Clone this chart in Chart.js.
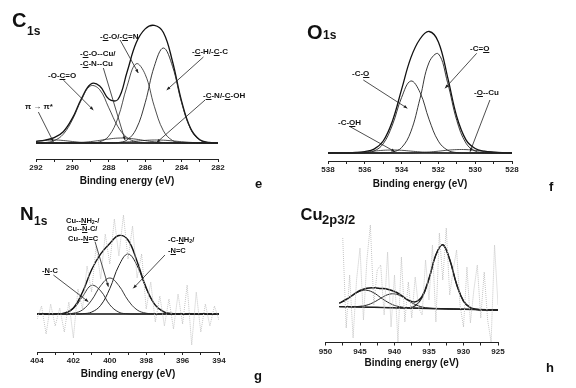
<!DOCTYPE html>
<html>
<head>
<meta charset="utf-8">
<script src="https://cdn.jsdelivr.net/npm/chart.js@4.4.1/dist/chart.umd.min.js"></script>
<style>
    body { margin: 0; background: #fff; }
    #page { position: relative; width: 576px; height: 388px; overflow: hidden; font-family: 'Liberation Sans', Arial, sans-serif; color: #111; }
    canvas { position: absolute; }
    .lbl { position: absolute; white-space: nowrap; font-weight: bold; line-height: 1; }
    .lbl u { text-decoration-thickness: 1px; text-underline-offset: 1px; }
    .lbl .s { font-size: 0.7em; vertical-align: -0.2em; }
</style>
</head>
<body>
<div id="page">
    <canvas id="c1sChart" width="290" height="195" style="left:0;top:0"></canvas>
    <canvas id="o1sChart" width="286" height="195" style="left:290px;top:0"></canvas>
    <canvas id="n1sChart" width="290" height="193" style="left:0;top:195px"></canvas>
    <canvas id="cuChart" width="286" height="193" style="left:290px;top:195px"></canvas>
</div>
<script>
// C 1s (panel e)
const c1sBE = [292, 291.5, 291, 290.5, 290, 289.5, 289, 288.5, 288, 287.5, 287, 286.5, 286, 285.5, 285, 284.5, 284, 283.5, 283, 282.5, 282];
const c1sEnvelope = [1.6, 2.9, 5.4, 11.3, 24.9, 44.5, 58.8, 57.1, 44, 43.5, 70.8, 99.9, 114.1, 117.6, 110.5, 81.5, 41.9, 14.4, 3.2, 0.5, 0];
const c1sCH = [0, 0, 0, 0, 0, 0, 0, 0, 0, 0.4, 3.0, 13.8, 40.3, 76.7, 95, 76.7, 40.3, 13.8, 3.0, 0.4, 0];
const c1sCO = [0, 0, 0, 0, 0, 0, 0.1, 1.2, 6.9, 25.0, 56.6, 79.2, 68.6, 36.7, 12.2, 2.5, 0.3, 0, 0, 0, 0];
const c1sOCO = [0.1, 0.4, 2.4, 8.8, 23.2, 43.3, 57.1, 53.3, 35.2, 16.4, 5.4, 1.3, 0.2, 0, 0, 0, 0, 0, 0, 0, 0];
const c1sPi = [1.5, 2.5, 3.0, 2.5, 1.5, 0.6, 0.2, 0, 0, 0, 0, 0, 0, 0, 0, 0, 0, 0, 0, 0, 0];
const c1sCOCu = [0, 0, 0, 0, 0.2, 0.6, 1.4, 2.6, 4.0, 4.9, 4.8, 3.8, 2.4, 1.2, 0.5, 0.2, 0, 0, 0, 0, 0];
const c1sCN = [0, 0, 0, 0, 0, 0, 0, 0, 0.2, 0.4, 1.0, 1.8, 2.6, 3.0, 2.8, 2.1, 1.3, 0.6, 0.2, 0.1, 0];

// O 1s (panel f)
const o1sBE = [538, 537.5, 537, 536.5, 536, 535.5, 535, 534.5, 534, 533.5, 533, 532.5, 532, 531.5, 531, 530.5, 530, 529.5, 529, 528.5, 528];
const o1sEnvelope = [0, 0.1, 0.2, 0.5, 1.4, 3.9, 12.0, 31.9, 63.6, 95.1, 114, 121.5, 111, 75.9, 36.3, 13.2, 4.5, 1.8, 0.8, 0.3, 0.1];
const o1sCdO = [0, 0, 0, 0, 0, 0, 0.1, 0.9, 5.4, 21.2, 54.4, 90.9, 99.1, 70.3, 32.5, 9.8, 1.9, 0.2, 0, 0, 0];
const o1sCO = [0, 0, 0, 0, 0.3, 2.0, 9.2, 28.0, 55.5, 72.0, 60.6, 33.2, 11.8, 2.8, 0.4, 0, 0, 0, 0, 0, 0];
const o1sCOH = [0, 0, 0.2, 0.5, 1.1, 1.9, 2.7, 3.0, 2.7, 1.9, 1.1, 0.5, 0.2, 0, 0, 0, 0, 0, 0, 0, 0];
const o1sOCu = [0, 0, 0, 0, 0, 0, 0, 0, 0, 0, 0.4, 1.0, 1.8, 2.8, 3.4, 3.4, 2.6, 1.6, 0.8, 0.3, 0.1];

// N 1s (panel g)
const n1sBE = [404, 403.5, 403, 402.5, 402, 401.5, 401, 400.5, 400, 399.5, 399, 398.5, 398, 397.5, 397, 396.5, 396, 395.5, 395, 394.5, 394];
const n1sEnvelope = [0, 0, 0.1, 0.9, 6.0, 21.8, 44.3, 60.1, 70.6, 78.5, 74.0, 52.5, 26.2, 8.8, 1.9, 0.3, 0, 0, 0, 0, 0];
const n1sCNH2 = [0, 0, 0, 0, 0, 0.3, 1.9, 8.7, 25.4, 48.4, 60, 48.4, 25.4, 8.7, 1.9, 0.3, 0, 0, 0, 0, 0];
const n1sCuN = [0, 0, 0, 0.1, 0.8, 4.1, 13.8, 28.3, 36, 28.3, 13.8, 4.1, 0.8, 0.1, 0, 0, 0, 0, 0, 0, 0];
const n1sNC = [0, 0, 0.1, 0.8, 5.2, 17.4, 28.6, 23.1, 9.2, 1.8, 0.2, 0, 0, 0, 0, 0, 0, 0, 0, 0, 0];
const n1sRawBE = [404, 403.75, 403.5, 403.25, 403, 402.75, 402.5, 402.25, 402, 401.75, 401.5, 401.25, 401, 400.75, 400.5, 400.25, 400, 399.75, 399.5, 399.25, 399, 398.75, 398.5, 398.25, 398, 397.75, 397.5, 397.25, 397, 396.75, 396.5, 396.25, 396, 395.75, 395.5, 395.25, 395, 394.75, 394.5, 394.25, 394];
const n1sRaw = [-5, 8, -20, 10, -12, 6, -18, 12, -24, 25, 5, 48, 22, 68, 35, 80, 50, 95, 58, 99, 55, 88, 36, 60, 5, 32, -8, 18, -12, 15, -15, 20, -10, 29, -31, 22, -18, 10, -12, 8, -6];

// Cu 2p3/2 (panel h)
const cuBE = [948, 947, 946, 945, 944, 943, 942, 941, 940, 939, 938, 937, 936, 935, 934, 933, 932, 931, 930, 929, 928, 927, 926, 925];
const cuEnvelope = [6.8, 10.5, 15.2, 19.5, 21.8, 22.2, 21.6, 20.8, 18.5, 14.6, 9.9, 8.1, 13.6, 31.4, 55.2, 65.2, 50.4, 25.8, 8.9, 2.3, 0.6, 0.3, 0.1, 0];
const cuMain = [3.4, 3.3, 3.1, 3.0, 2.8, 2.7, 2.5, 2.4, 2.2, 2.1, 2.3, 4.3, 12.2, 31.0, 55.1, 65.2, 50.4, 25.8, 8.9, 2.3, 0.6, 0.3, 0.1, 0];
const cuSat1 = [6.8, 10.4, 15.0, 18.8, 19.7, 17.2, 12.4, 7.9, 4.6, 3.0, 2.1, 1.9, 1.6, 1.5, 1.3, 1.2, 1.0, 0.9, 0.7, 0.6, 0.4, 0.3, 0.1, 0];
const cuSat2 = [3.4, 3.4, 3.3, 3.7, 4.9, 7.7, 11.7, 15.3, 16.1, 13.7, 9.3, 5.5, 3.0, 1.9, 1.4, 1.2, 1.0, 0.9, 0.7, 0.6, 0.4, 0.3, 0.1, 0];
const cuBgBE = [948, 925];
const cuBackground = [3.4, 0];
const cuRawBE = [947.5, 947, 946.5, 946, 945.5, 945, 944.5, 944, 943.5, 943, 942.5, 942, 941.5, 941, 940.5, 940, 939.5, 939, 938.5, 938, 937.5, 937, 936.5, 936, 935.5, 935, 934.5, 934, 933.5, 933, 932.5, 932, 931.5, 931, 930.5, 930, 929.5, 929, 928.5, 928, 927.5, 927, 926.5, 926, 925.5, 925];
const cuRaw = [72, -18, 35, -28, 30, 62, -10, 50, 85, 5, 40, 45, -5, 58, -17, 35, -32, 53, -12, 28, -8, 33, 2, -5, 50, 10, 65, -12, 77, 30, 82, 15, 40, 60, 5, -17, 43, -13, 20, 45, -8, 38, -10, -32, 65, 5];

// leader lines: [BE tail, height tail, BE tip, height tip]
const c1sArrows = [[290.5, 63, 288.85, 33], [291.87, 31, 291.05, 1.3], [288.3, 75, 287.11, 3], [287.38, 103, 286.38, 70], [282.8, 86, 284.82, 53], [282.71, 43, 285.37, 0.5]];
const o1sArrows = [[529.92, 99.7, 531.64, 64.7], [536.08, 73, 533.69, 44.7], [536.8, 26.3, 534.36, 1.3], [529.2, 53, 530.28, 1.3]];
const n1sArrows = [[403.1, 39, 401.18, 12.3], [400.81, 72.3, 400.08, 27.3], [396.97, 59, 398.71, 25.7]];

const FONT = "'Liberation Sans', Arial, sans-serif";

const leaderPlugin = {
    id: 'leaders',
    afterDatasetsDraw(chart, args, opts) {
        const ctx = chart.ctx;
        const xs = chart.scales.x, ys = chart.scales.y;
        (opts.lines || []).forEach(l => {
            const x1 = xs.getPixelForValue(l[0]), y1 = ys.getPixelForValue(l[1]);
            const x2 = xs.getPixelForValue(l[2]), y2 = ys.getPixelForValue(l[3]);
            const a = Math.atan2(y2 - y1, x2 - x1);
            ctx.save();
            ctx.strokeStyle = '#222';
            ctx.fillStyle = '#222';
            ctx.lineWidth = 0.8;
            ctx.beginPath();
            ctx.moveTo(x1, y1);
            ctx.lineTo(x2, y2);
            ctx.stroke();
            ctx.beginPath();
            ctx.moveTo(x2, y2);
            ctx.lineTo(x2 - 4 * Math.cos(a - 0.4), y2 - 4 * Math.sin(a - 0.4));
            ctx.lineTo(x2 - 4 * Math.cos(a + 0.4), y2 - 4 * Math.sin(a + 0.4));
            ctx.closePath();
            ctx.fill();
            ctx.restore();
        });
    }
};

function line(be, vals, width, color) {
    return {
        data: be.map((e, i) => ({ x: e, y: vals[i] })),
        borderColor: color || '#222',
        borderWidth: width,
        fill: false,
        pointRadius: 0,
        tension: 0.4
    };
}

function raw(be, vals) {
    return {
        data: be.map((e, i) => ({ x: e, y: vals[i] })),
        borderColor: '#c4c4c4',
        borderWidth: 1,
        borderDash: [1, 1],
        fill: false,
        pointRadius: 0,
        tension: 0
    };
}

function xpsChart(id, cfg) {
    new Chart(document.getElementById(id), {
        type: 'line',
        data: { datasets: cfg.datasets },
        options: {
            responsive: false,
            animation: false,
            events: [],
            layout: { padding: cfg.pad },
            plugins: {
                legend: { display: false },
                tooltip: { enabled: false },
                leaders: { lines: cfg.arrows || [] }
            },
            scales: {
                x: {
                    type: 'linear',
                    reverse: true,
                    min: cfg.xMin,
                    max: cfg.xMax,
                    afterFit: s => { s.height = cfg.axisH; },
                    border: { display: true, color: '#222', width: 1 },
                    grid: { drawOnChartArea: false, drawTicks: true, tickLength: 3, color: '#222' },
                    ticks: {
                        stepSize: cfg.step,
                        autoSkip: false,
                        maxRotation: 0,
                        padding: 1,
                        color: '#222',
                        font: { family: FONT, size: 8, weight: 'bold' },
                        callback: v => (Math.abs(v % cfg.every) < 1e-6 ? v : '')
                    }
                },
                y: { display: false, min: cfg.yMin, max: cfg.yMax }
            }
        },
        plugins: [leaderPlugin]
    });
}

xpsChart('c1sChart', {
    xMin: 282, xMax: 292, step: 1, every: 2, yMin: -16, yMax: 123, axisH: 36,
    pad: { left: 36, right: 72, top: 20, bottom: 0 },
    arrows: c1sArrows,
    datasets: [
        line(c1sBE, c1sPi, 0.8), line(c1sBE, c1sOCO, 0.8), line(c1sBE, c1sCOCu, 0.8),
        line(c1sBE, c1sCO, 0.8), line(c1sBE, c1sCN, 0.8), line(c1sBE, c1sCH, 0.9),
        line(c1sBE, c1sEnvelope, 1.3, '#111'),
        line([292, 282], [0, 0], 1.6, '#111')
    ]
});

xpsChart('o1sChart', {
    xMin: 528, xMax: 538, step: 1, every: 2, yMin: -8, yMax: 133, axisH: 34,
    pad: { left: 38, right: 64, top: 20, bottom: 0 },
    arrows: o1sArrows,
    datasets: [
        line(o1sBE, o1sCOH, 0.8), line(o1sBE, o1sCO, 0.9), line(o1sBE, o1sCdO, 0.9),
        line(o1sBE, o1sOCu, 0.8),
        line(o1sBE, o1sEnvelope, 1.3, '#111'),
        line([538, 528], [0, 0], 1.6, '#111')
    ]
});

xpsChart('n1sChart', {
    xMin: 394, xMax: 404, step: 1, every: 2, yMin: -38, yMax: 102, axisH: 36,
    pad: { left: 37, right: 71, top: 17, bottom: 0 },
    arrows: n1sArrows,
    datasets: [
        raw(n1sRawBE, n1sRaw),
        line(n1sBE, n1sNC, 0.9), line(n1sBE, n1sCuN, 0.9), line(n1sBE, n1sCNH2, 1.0),
        line(n1sBE, n1sEnvelope, 1.4, '#111'),
        line([404, 394], [0, 0], 1.4, '#111')
    ]
});

xpsChart('cuChart', {
    xMin: 925, xMax: 950, step: 2.5, every: 5, yMin: -32.5, yMax: 88, axisH: 45.5,
    pad: { left: 35.5, right: 78, top: 27, bottom: 0 },
    datasets: [
        raw(cuRawBE, cuRaw),
        line(cuBE, cuSat1, 1.0), line(cuBE, cuSat2, 1.0), line(cuBE, cuMain, 1.1),
        line(cuBE, cuEnvelope, 1.5, '#111'),
        line(cuBgBE, cuBackground, 1.4, '#111')
    ]
});

// text: [html, left, baseline, font size, centered width]
const labels = [
    ['C', 12, 26.7, 20], ['1s', 27, 35.5, 12],
    ['O', 307, 39, 20], ['1s', 323, 39.5, 12],
    ['N', 20, 220, 19], ['1s', 34, 225.5, 12],
    ['Cu', 300.5, 220, 16.5], ['2p3/2', 322, 224, 13],
    ['-O-<u>C</u>=O', 48, 79, 8], ['-<u>C</u>-O--Cu/', 80, 57, 8], ['-<u>C</u>-N--Cu', 80, 67, 8],
    ['-<u>C</u>-O/-<u>C</u>=N', 100, 40, 8], ['-<u>C</u>-H/-<u>C</u>-C', 192, 55, 8],
    ['-<u>C</u>-N/-<u>C</u>-OH', 203, 99, 8], ['\u03c0 \u2192 \u03c0*', 25, 110, 8],
    ['-C=<u>O</u>', 470, 52, 8], ['-C-<u>O</u>', 352, 77, 8], ['-C-<u>O</u>H', 338, 126, 8], ['-<u>O</u>--Cu', 474, 96, 8],
    ['Cu--<u>N</u>H<span class="s">2</span>-/', 66, 223, 7.5], ['Cu--<u>N</u>-C/', 67, 231, 7.5], ['Cu--<u>N</u>=C', 68, 241, 7.5],
    ['-<u>N</u>-C', 42, 273, 7.5], ['-C-<u>N</u>H<span class="s">2</span>/', 168, 242, 7.5], ['-<u>N</u>=C', 168, 253, 7.5],
    ['Binding energy (eV)', 127, 184, 10, 130], ['Binding energy (eV)', 420, 187, 10, 130],
    ['Binding energy (eV)', 128, 377, 10, 130], ['Binding energy (eV)', 411.7, 366, 10, 130],
    ['e', 255, 188, 13], ['f', 549, 191, 13], ['g', 254, 380, 13], ['h', 546, 372, 13]
];

const page = document.getElementById('page');
labels.forEach(l => {
    const d = document.createElement('div');
    d.className = 'lbl';
    d.innerHTML = l[0];
    d.style.fontSize = l[3] + 'px';
    d.style.top = (l[2] - 0.85 * l[3]) + 'px';
    if (l[4]) {
        d.style.left = (l[1] - l[4] / 2) + 'px';
        d.style.width = l[4] + 'px';
        d.style.textAlign = 'center';
    } else {
        d.style.left = l[1] + 'px';
    }
    page.appendChild(d);
});
</script>
</body>
</html>
